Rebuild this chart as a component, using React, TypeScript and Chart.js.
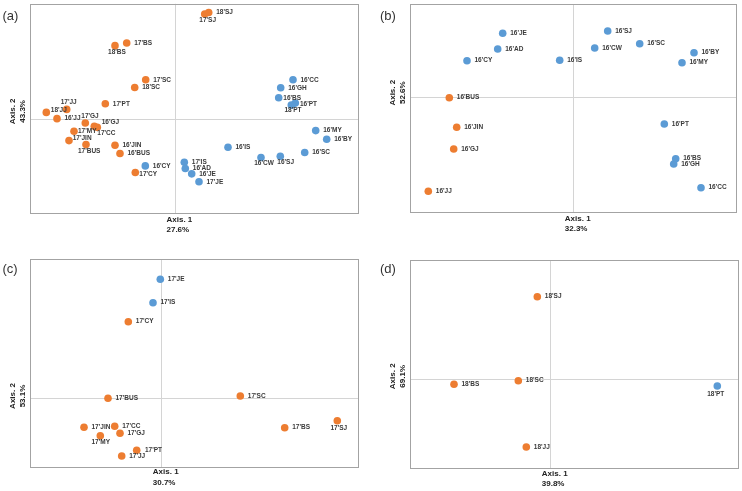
import React, { useEffect, useRef } from "react";
import { Chart, registerables } from "chart.js";

Chart.register(...registerables);

const ORANGE = "#ED7D31";
const BLUE = "#5B9BD5";

// ---------- Panel (a) ----------
const A_ORANGE_LABELS = ["17'BS", "18'BS", "17'SC", "18'SC", "17'PT", "17'JJ", "18'JJ", "16'JJ", "17'GJ", "16'GJ", "17'CC", "17'MY", "17'JIN", "17'BUS", "16'JIN", "16'BUS", "17'CY", "18'SJ", "17'SJ"];
const A_ORANGE_X = [-4.83, -6.0, -2.93, -4.03, -6.97, -10.83, -12.87, -11.8, -8.97, -8.07, -7.77, -10.1, -10.6, -8.9, -6.0, -5.5, -3.97, 3.37, 2.97];
const A_ORANGE_Y = [7.67, 7.4, 3.97, 3.2, 1.57, 1.0, 0.7, 0.07, -0.37, -0.7, -0.8, -1.2, -2.13, -2.53, -2.6, -3.43, -5.33, 10.73, 10.57];
const A_BLUE_LABELS = ["16'CY", "16'CC", "16'GH", "16'BS", "16'PT", "18'PT", "16'MY", "16'BY", "16'IS", "16'SC", "16'CW", "16'SJ", "17'IS", "16'AD", "16'JE", "17'JE"];
const A_BLUE_X = [-2.97, 11.8, 10.57, 10.37, 12.03, 11.63, 14.07, 15.17, 5.3, 12.97, 8.6, 10.53, 0.93, 1.03, 1.67, 2.4];
const A_BLUE_Y = [-4.67, 3.97, 3.17, 2.17, 1.63, 1.43, -1.13, -2.0, -2.8, -3.33, -3.83, -3.7, -4.3, -4.93, -5.47, -6.27];

// ---------- Panel (b) ----------
const B_ORANGE_LABELS = ["16'BUS", "16'JIN", "16'GJ", "16'JJ"];
const B_ORANGE_X = [-12.4, -11.66, -11.96, -14.5];
const B_ORANGE_Y = [-0.1, -3.06, -5.23, -9.46];
const B_BLUE_LABELS = ["16'JE", "16'AD", "16'CY", "16'SJ", "16'CW", "16'SC", "16'IS", "16'BY", "16'MY", "16'PT", "16'BS", "16'GH", "16'CC"];
const B_BLUE_X = [-7.06, -7.56, -10.63, 3.44, 2.14, 6.64, -1.36, 12.07, 10.87, 9.1, 10.24, 10.04, 12.77];
const B_BLUE_Y = [6.34, 4.77, 3.6, 6.57, 4.87, 5.3, 3.64, 4.4, 3.4, -2.73, -6.2, -6.73, -9.1];

// ---------- Panel (c) ----------
const C_ORANGE_LABELS = ["17'CY", "17'BUS", "17'JIN", "17'CC", "17'GJ", "17'MY", "17'PT", "17'JJ", "17'SC", "17'BS", "17'SJ"];
const C_ORANGE_X = [-3.3, -5.33, -7.73, -4.66, -4.13, -6.1, -2.46, -3.96, 7.9, 12.34, 17.6];
const C_ORANGE_Y = [7.63, -0.03, -2.93, -2.83, -3.53, -3.77, -5.23, -5.8, 0.2, -2.97, -2.27];
const C_BLUE_LABELS = ["17'JE", "17'IS"];
const C_BLUE_X = [-0.1, -0.83];
const C_BLUE_Y = [11.87, 9.53];

// ---------- Panel (d) ----------
const D_ORANGE_LABELS = ["18'SJ", "18'BS", "18'SC", "18'JJ"];
const D_ORANGE_X = [-1.3, -9.63, -3.2, -2.4];
const D_ORANGE_Y = [8.26, -0.5, -0.14, -6.77];
const D_BLUE_LABELS = ["18'PT"];
const D_BLUE_X = [16.7];
const D_BLUE_Y = [-0.67];

// axis explained-variance labels
const AXIS1_PCT = ["27.6%", "32.3%", "30.7%", "39.8%"];
const AXIS2_PCT = ["43.3%", "52.6%", "53.1%", "69.1%"];
const PANEL_LETTERS = ["(a)", "(b)", "(c)", "(d)"];

// ---------- layout / style (not data) ----------
type Off = [number, number, CanvasTextAlign];
const DEFAULT_OFF: Off = [7.5, 0, "left"];

const A_OFFSETS: Record<string, Off> = {
  "18'BS": [2, 7, "center"],
  "17'JJ": [2, -7, "center"],
  "18'JJ": [4.5, -2, "left"],
  "17'GJ": [4.7, -6.4, "center"],
  "16'GJ": [7.4, -4.3, "left"],
  "17'CC": [0, 5.5, "left"],
  "17'MY": [4, 0, "left"],
  "17'JIN": [3.7, -2.6, "left"],
  "17'BUS": [3.2, 6.7, "center"],
  "17'CY": [4, 1.7, "left"],
  "17'SJ": [3, 6, "center"],
  "16'BS": [4.6, 0, "left"],
  "16'PT": [4.7, 0.6, "left"],
  "18'PT": [1.7, 5.3, "center"],
  "16'CW": [3, 6, "center"],
  "16'SJ": [-3, 5.7, "left"],
};
const B_OFFSETS: Record<string, Off> = {};
const C_OFFSETS: Record<string, Off> = {
  "17'MY": [0.4, 7, "center"],
  "17'SJ": [1.5, 7.6, "center"],
  "17'PT": [8.3, 0.4, "left"],
};
const D_OFFSETS: Record<string, Off> = {
  "18'PT": [-1.5, 8.3, "center"],
};

interface Series { labels: string[]; x: number[]; y: number[]; color: string }
interface PanelCfg {
  idx: number;
  left: number; top: number; width: number; height: number;
  pad: { left: number; top: number; right: number; bottom: number };
  xr: [number, number]; yr: [number, number];
  letterPos: [number, number];
  ax1Dy: [number, number];
  ax2Shift: number;
  series: Series[];
  offsets: Record<string, Off>;
}

const mk = (labels: string[], x: number[], y: number[], color: string): Series => ({ labels, x, y, color });

const PANELS: PanelCfg[] = [
  {
    idx: 0, left: 0, top: 0, width: 371, height: 250,
    pad: { left: 30, top: 3, right: 13, bottom: 37 },
    xr: [-14.5, 18.3], yr: [-9.4, 11.6],
    letterPos: [2.5, 16], ax1Dy: [7, 17], ax2Shift: -8,
    series: [mk(A_ORANGE_LABELS, A_ORANGE_X, A_ORANGE_Y, ORANGE), mk(A_BLUE_LABELS, A_BLUE_X, A_BLUE_Y, BLUE)],
    offsets: A_OFFSETS,
  },
  {
    idx: 1, left: 371, top: 0, width: 371, height: 250,
    pad: { left: 39, top: 4, right: 6, bottom: 38 },
    xr: [-16.33, 16.27], yr: [-11.53, 9.27],
    letterPos: [9, 16], ax1Dy: [7, 17], ax2Shift: -4,
    series: [mk(B_ORANGE_LABELS, B_ORANGE_X, B_ORANGE_Y, ORANGE), mk(B_BLUE_LABELS, B_BLUE_X, B_BLUE_Y, BLUE)],
    offsets: B_OFFSETS,
  },
  {
    idx: 2, left: 0, top: 250, width: 371, height: 241,
    pad: { left: 30, top: 9, right: 13, bottom: 24 },
    xr: [-13.13, 19.67], yr: [-6.9, 13.9],
    letterPos: [2.5, 19], ax1Dy: [5, 15.5], ax2Shift: -2,
    series: [mk(C_ORANGE_LABELS, C_ORANGE_X, C_ORANGE_Y, ORANGE), mk(C_BLUE_LABELS, C_BLUE_X, C_BLUE_Y, BLUE)],
    offsets: C_OFFSETS,
  },
  {
    idx: 3, left: 371, top: 250, width: 371, height: 241,
    pad: { left: 39, top: 10, right: 4, bottom: 23 },
    xr: [-14.03, 18.77], yr: [-8.87, 11.93],
    letterPos: [9, 19], ax1Dy: [5.5, 16], ax2Shift: -3,
    series: [mk(D_ORANGE_LABELS, D_ORANGE_X, D_ORANGE_Y, ORANGE), mk(D_BLUE_LABELS, D_BLUE_X, D_BLUE_Y, BLUE)],
    offsets: D_OFFSETS,
  },
];

const FONT = '"Liberation Sans", Arial, sans-serif';

function makeDecor(cfg: PanelCfg) {
  return {
    id: "decor" + cfg.idx,
    beforeDatasetsDraw(chart: any) {
      const { ctx, chartArea: ca, scales } = chart;
      const cx = Math.round(scales.x.getPixelForValue(0)) + 0.5;
      const cy = Math.round(scales.y.getPixelForValue(0)) + 0.5;
      ctx.save();
      ctx.lineWidth = 1;
      ctx.strokeStyle = "#d4d4d4";
      ctx.beginPath();
      ctx.moveTo(cx, ca.top);
      ctx.lineTo(cx, ca.bottom);
      ctx.moveTo(ca.left, cy);
      ctx.lineTo(ca.right, cy);
      ctx.stroke();
      ctx.strokeStyle = "#a3a3a3";
      ctx.strokeRect(Math.round(ca.left) + 0.5, Math.round(ca.top) + 0.5, Math.round(ca.right - ca.left), Math.round(ca.bottom - ca.top));
      ctx.restore();
    },
    afterDatasetsDraw(chart: any) {
      const { ctx, scales } = chart;
      ctx.save();
      ctx.fillStyle = "#3a3a3a";
      ctx.font = `bold 6.5px ${FONT}`;
      ctx.textBaseline = "middle";
      cfg.series.forEach((s) => {
        s.labels.forEach((lab, i) => {
          const px = scales.x.getPixelForValue(s.x[i]);
          const py = scales.y.getPixelForValue(s.y[i]);
          const off = cfg.offsets[lab] || DEFAULT_OFF;
          ctx.textAlign = off[2];
          ctx.fillText(lab, px + off[0], py + off[1]);
        });
      });
      ctx.restore();
    },
    afterDraw(chart: any) {
      const { ctx, chartArea: ca, scales } = chart;
      const cx = scales.x.getPixelForValue(0);
      const cy = scales.y.getPixelForValue(0);
      ctx.save();
      // panel letter
      ctx.fillStyle = "#333";
      ctx.font = `13px ${FONT}`;
      ctx.textAlign = "left";
      ctx.textBaseline = "middle";
      ctx.fillText(PANEL_LETTERS[cfg.idx], cfg.letterPos[0], cfg.letterPos[1]);
      // axis 1 title
      ctx.fillStyle = "#222";
      ctx.font = `bold 8px ${FONT}`;
      ctx.textAlign = "left";
      ctx.fillText("Axis. 1", cx - 8.5, ca.bottom + cfg.ax1Dy[0]);
      ctx.fillText(AXIS1_PCT[cfg.idx], cx - 8.5, ca.bottom + cfg.ax1Dy[1]);
      // axis 2 title (rotated)
      ctx.translate(ca.left, cy + cfg.ax2Shift);
      ctx.rotate(-Math.PI / 2);
      ctx.textAlign = "center";
      ctx.fillText("Axis. 2", 0, -17);
      ctx.fillText(AXIS2_PCT[cfg.idx], 0, -7.5);
      ctx.restore();
    },
  };
}

function Panel({ cfg }: { cfg: PanelCfg }) {
  const ref = useRef<HTMLCanvasElement | null>(null);
  useEffect(() => {
    if (!ref.current) return;
    const chart = new Chart(ref.current, {
      type: "scatter",
      data: {
        datasets: cfg.series.map((s) => ({
          data: s.x.map((v, i) => ({ x: v, y: s.y[i] })),
          backgroundColor: s.color,
          borderColor: s.color,
          borderWidth: 0,
          pointRadius: 3.8,
          pointHoverRadius: 3.8,
          clip: false as any,
        })),
      },
      options: {
        animation: false,
        responsive: false,
        maintainAspectRatio: false,
        events: [],
        layout: { padding: cfg.pad },
        plugins: { legend: { display: false }, tooltip: { enabled: false } },
        scales: {
          x: { type: "linear", min: cfg.xr[0], max: cfg.xr[1], display: false },
          y: { type: "linear", min: cfg.yr[0], max: cfg.yr[1], display: false },
        },
      },
      plugins: [makeDecor(cfg)],
    });
    return () => chart.destroy();
  }, [cfg]);
  return (
    <canvas
      ref={ref}
      width={cfg.width}
      height={cfg.height}
      style={{ position: "absolute", left: cfg.left, top: cfg.top, width: cfg.width, height: cfg.height }}
    />
  );
}

export default function App() {
  return (
    <div style={{ position: "absolute", left: 0, top: 0, width: 742, height: 491, background: "#fff", overflow: "hidden" }}>
      {PANELS.map((p) => (
        <Panel key={p.idx} cfg={p} />
      ))}
    </div>
  );
}
